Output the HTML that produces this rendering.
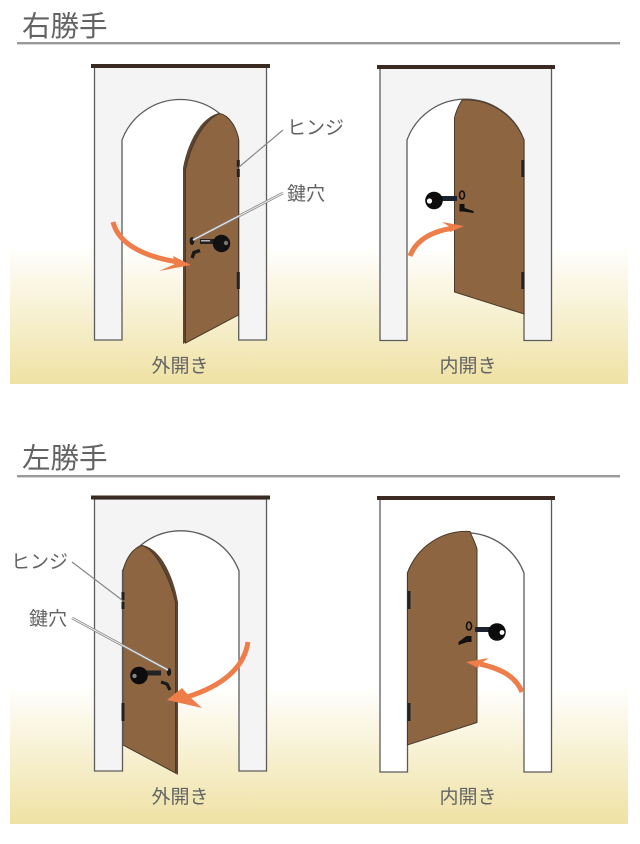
<!DOCTYPE html>
<html lang="ja"><head><meta charset="utf-8"><title>右勝手・左勝手</title>
<style>
html,body{margin:0;padding:0;background:#fff}
svg{display:block}
text{font-family:"Liberation Sans","Noto Sans CJK JP",sans-serif;fill:#636363;font-weight:400}
.h{font-size:28.5px}
.l{font-size:19px}
.frame{fill:#f4f4f5;stroke:#5c5c5c;stroke-width:1.3}
.door{fill:#8e6541;stroke:#4a3a2c;stroke-width:1}
.edge{fill:#5d4431}
.arrow{fill:none;stroke:#ee7d4a;stroke-width:5}
.head{fill:#ee7d4a}
.bar{fill:#3a2b22}
</style></head><body>
<svg width="640" height="844" viewBox="0 0 640 844" xmlns="http://www.w3.org/2000/svg">
<defs><linearGradient id="g" x1="0" y1="0" x2="0" y2="1"><stop offset="0" stop-color="#fff"/><stop offset="1" stop-color="#efe2a4"/></linearGradient></defs>
<rect x="10" y="245" width="618" height="139" fill="url(#g)"/>
<rect x="10" y="685" width="618" height="139" fill="url(#g)"/>

<text class="h" x="22" y="36">右勝手</text>
<rect x="17" y="42" width="603" height="2.4" fill="#999"/>
<text class="h" x="22" y="468">左勝手</text>
<rect x="17" y="475" width="603" height="2.4" fill="#999"/>

<!-- Top left -->
<path class="frame" d="M94.5 67H266.5V340H238.7V140A62.3 62.3 0 0 0 122 140V340H94.5Z"/>
<rect class="bar" x="91" y="64" width="179" height="4"/>
<path class="edge" d="M183 168C187 146 199 118 219 113L221 114C205 120 192 146 186 170V342L183 344Z"/>
<path class="door" stroke="none" d="M185.5 170C190 148 202 121 219.5 113.5C229 115 236 127 238.5 138V315L185.5 343Z"/>
<rect x="236.8" y="160" width="3" height="7" fill="#222"/><rect x="236.8" y="169" width="3" height="8" fill="#222"/><rect x="236.8" y="272" width="3" height="17" fill="#222"/>
<ellipse cx="192" cy="241" rx="2.4" ry="4" fill="#1a1a1a"/>
<path d="M192 258L194 252.5L200 250.5" fill="none" stroke="#1a1a1a" stroke-width="3.4"/>
<path d="M200 239H215V244H200Z" fill="#222"/><path d="M201 240.8H210" stroke="#ddd" stroke-width="1.2"/>
<circle cx="221.5" cy="243.5" r="8.7" fill="#111"/><circle cx="226" cy="243" r="2.2" fill="#777"/>
<path class="arrow" d="M113 222C118 242 140 256 178 262"/>
<path class="head" d="M191 265L173 256L175 264L159 271Z"/>
<path d="M283 130L239 167" stroke="#888" stroke-width="1.2" fill="none"/>
<path d="M283 193L193 240" stroke="#888" stroke-width="2.6" fill="none"/><path d="M283 193L193 240" stroke="#eee" stroke-width="1" fill="none"/>
<text class="l" x="287" y="134">ヒンジ</text>
<text class="l" x="287" y="200">鍵穴</text>
<text class="l" x="180" y="372" text-anchor="middle">外開き</text>

<!-- Top right -->
<path class="frame" d="M380 68H551.5V340.5H524V140A62.3 62.3 0 0 0 407 140V340.5H380Z"/>
<rect class="bar" x="377" y="65" width="178" height="4"/>
<path class="door" d="M454.5 118C456 111 459 105 462 100A62.3 62.3 0 0 1 524 140V314L454.5 292Z"/>
<rect x="521.3" y="160" width="3" height="17" fill="#222"/><rect x="521.3" y="272" width="3" height="17" fill="#222"/>
<ellipse cx="462" cy="195" rx="2.5" ry="4" fill="none" stroke="#111" stroke-width="1.6"/>
<path d="M459.5 204h5v4l9 3v2l-10-1.5h-4Z" fill="#111"/>
<path d="M440 196H457V201H440Z" fill="#1d2430"/>
<circle cx="434" cy="200.5" r="8.8" fill="#0c0c0c"/><circle cx="429.5" cy="201" r="2.6" fill="#fff"/>
<path class="arrow" d="M410 256C416 240 432 231 454 228"/>
<path class="head" d="M464 226L442 222L450 227L450 232Z"/>
<text class="l" x="468" y="372" text-anchor="middle">内開き</text>

<!-- Bottom left -->
<path class="frame" d="M94.5 499H266.5V771H239V571A62.3 62.3 0 0 0 122.5 571V771H94.5Z"/>
<rect class="bar" x="91" y="495.5" width="179" height="4"/>
<path class="edge" d="M142 545C161 548 174 578 178 602V775L175 773V602C170 580 158 552 140 546Z"/>
<path class="door" stroke="none" d="M123 571C126 558 133 548 142 545.5C157 550 170 580 175.5 602V773L123 745Z"/>
<path d="M123 571V745" stroke="#555" stroke-width="1.2"/>
<rect x="121.5" y="592" width="3" height="8" fill="#222"/><rect x="121.5" y="602" width="3" height="7" fill="#222"/><rect x="121.5" y="703" width="3" height="18" fill="#222"/>
<ellipse cx="169" cy="672" rx="2.2" ry="4" fill="#1a1a1a"/>
<path d="M161 682L167 684L170 690" fill="none" stroke="#1a1a1a" stroke-width="3.2"/>
<path d="M146 670.5H161V675.5H146Z" fill="#222"/>
<circle cx="139" cy="675.5" r="8.8" fill="#0c0c0c"/><circle cx="134.5" cy="676" r="2.2" fill="#888"/>
<path class="arrow" d="M248 642C244 668 222 686 187 697" stroke-width="5.5"/>
<path class="head" d="M167 700L182 688L190 697L202 708Z"/>
<path d="M72 562L122 600" stroke="#888" stroke-width="1.2" fill="none"/>
<path d="M72 618L168 670" stroke="#888" stroke-width="2.6" fill="none"/><path d="M72 618L168 670" stroke="#eee" stroke-width="1" fill="none"/>
<text class="l" x="11" y="568">ヒンジ</text>
<text class="l" x="29" y="625">鍵穴</text>
<text class="l" x="180" y="803" text-anchor="middle">外開き</text>

<!-- Bottom right -->
<path class="frame" style="fill:#fff" d="M380 499H551.5V772H524V573A62.3 62.3 0 0 0 407.5 573V772H380Z"/>
<rect class="bar" x="377" y="496" width="178" height="4"/>
<path class="door" d="M407.5 573A62.3 62.3 0 0 1 470 531.5C472 537 475 542 477 549V722.5L407.5 745Z"/>
<rect x="407.5" y="591" width="3" height="18" fill="#222"/><rect x="407.5" y="703" width="3" height="18" fill="#222"/>
<ellipse cx="469" cy="626" rx="2.5" ry="4" fill="none" stroke="#111" stroke-width="1.6"/>
<path d="M466.5 636h5v6h-4l-9 3v-3Z" fill="#111"/>
<path d="M475 627H491V632H475Z" fill="#1d2430"/>
<circle cx="497" cy="632" r="8.8" fill="#0c0c0c"/><circle cx="502" cy="632.5" r="2.4" fill="#fff"/>
<path class="arrow" d="M522 692C516 677 502 669 480 664"/>
<path class="head" d="M466 662L489 658L480 664L478 668Z"/>
<text class="l" x="468" y="803" text-anchor="middle">内開き</text>
</svg>
</body></html>
